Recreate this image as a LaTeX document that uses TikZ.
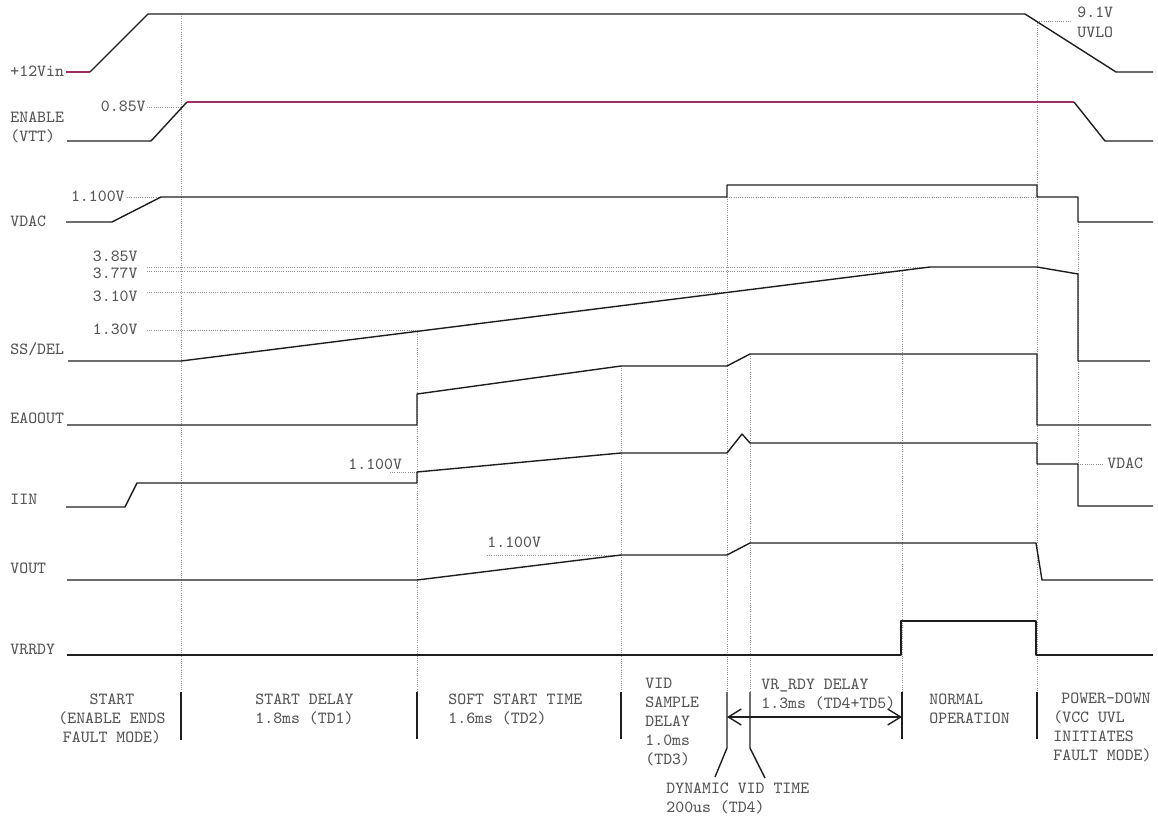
\documentclass[tikz,border=0pt]{standalone}
\usepackage{tikz}
\usetikzlibrary{arrows.meta}
\definecolor{wavemag}{RGB}{160,48,100}
\definecolor{labelgray}{RGB}{85,85,85}
\definecolor{waveblack}{RGB}{30,30,30}

\begin{document}
\begin{tikzpicture}[x=0.5pt, y=-0.5pt,
  every node/.style={font=\ttfamily\fontsize{8.5}{9.5}\selectfont, text=labelgray,
                     inner sep=0pt},
  wave/.style={draw=waveblack, line width=0.7pt, line join=round},
  hiwave/.style={wave, draw=wavemag},
  guide/.style={draw=gray!85, line width=0.45pt, dash pattern=on 0.5pt off 0.6pt},
  tick/.style={draw=waveblack, line width=0.7pt},
  sig/.style={anchor=base west, align=left},
  lvl/.style={anchor=base east},
  phase/.style={anchor=base west, align=left},
  span/.style={tick, {Straight Barb[length=6.5pt, width=8pt]}-{Straight Barb[length=6.5pt, width=8pt]}}
]
\useasboundingbox (0,0) rectangle (1158,819);

%--- Signal names ---
\node[sig] (vin)   at (10,76)  {+12Vin};
\node[sig] (en)    at (10,141) {ENABLE\\(VTT)};
\node[sig] (vdac)  at (10,226) {VDAC};
\node[sig] (ss)    at (10,354) {SS/DEL};
\node[sig] (ea)    at (10,423) {EAOOUT};
\node[sig] (iin)   at (10,504) {IIN};
\node[sig] (vout)  at (10,573) {VOUT};
\node[sig] (rdy)   at (10,654) {VRRDY};

%--- Level labels ---
\node[lvl] (v085)  at (146,111) {0.85V};
\node[lvl] (v110a) at (125,201) {1.100V};
\node[lvl] (v385)  at (138,261) {3.85V};
\node[lvl] (v377)  at (138,278) {3.77V};
\node[lvl] (v310)  at (138,301) {3.10V};
\node[lvl] (v130)  at (138,334) {1.30V};
\node[sig] (v110b) at (348,469) {1.100V};
\node[sig] (v110c) at (487,547) {1.100V};
\node[sig] (uvlo)  at (1077,37) {9.1V\\UVLO};
\node[sig] (vdacr) at (1107,468) {VDAC};

%--- Guide lines ---
\draw[guide] (181,14) -- (181,692);
\draw[guide] (417,330) -- (417,692);
\draw[guide] (621,366) -- (621,692);
\draw[guide] (727,197) -- (727,692);
\draw[guide] (750,354) -- (750,692);
\draw[guide] (902,271) -- (902,692);
\draw[guide] (1037,21) -- (1037,692);
\draw[guide] (1078,222) -- (1078,464);

\draw[guide] (147,107) -- (181,107);
\draw[guide] (127,197) -- (161,197);
\draw[guide] (727,197) -- (1037,197);
\draw[guide] (147,267) -- (930,267);
\draw[guide] (147,271) -- (902,271);
\draw[guide] (147,292) -- (727,292);
\draw[guide] (147,330) -- (417,330);
\draw[guide] (390,472) -- (417,472);
\draw[guide] (487,555) -- (621,555);
\draw[guide] (1037,21) -- (1072,21);
\draw[guide] (1078,464) -- (1104,464);

%--- Waveforms ---
% +12Vin
\draw[hiwave] (66,72) -- (90,72);
\draw[wave] (90,72) -- (148,14) -- (1025,14) -- (1116,72) -- (1153,72);
% ENABLE
\draw[wave] (67,141) -- (151,141) -- (187,102);
\draw[hiwave] (187,102) -- (1074,102);
\draw[wave] (1074,102) -- (1105,141) -- (1153,141);
% VDAC
\draw[wave] (66,222) -- (112,222) -- (161,197) -- (727,197) -- (727,185)
  -- (1037,185) -- (1037,197) -- (1078,197) -- (1078,222) -- (1153,222);
% SS/DEL
\draw[wave] (68,361) -- (181,361) -- (930,267) -- (1037,267) -- (1078,274)
  -- (1078,361) -- (1150,361);
% EAOOUT
\draw[wave] (67,425) -- (417,425) -- (417,394) -- (621,366) -- (727,366)
  -- (750,354) -- (1037,354) -- (1037,425) -- (1151,425);
% IIN
\draw[wave] (66,507) -- (125,507) -- (137,483) -- (417,483) -- (417,472)
  -- (621,453) -- (727,453) -- (742,434) -- (750,443) -- (1037,443)
  -- (1037,464) -- (1078,464) -- (1078,506) -- (1153,506);
% VOUT
\draw[wave] (67,580) -- (417,580) -- (621,555) -- (727,555) -- (750,543)
  -- (1036,543) -- (1042,580) -- (1153,580);
% VRRDY
\draw[wave] (67,655) -- (901,655) -- (901,621) -- (1036,621) -- (1036,655)
  -- (1153,655);

%--- Phase marks ---
\draw[tick] (181,692) -- (181,740);
\draw[tick] (417,692) -- (417,739);
\draw[tick] (621,692) -- (621,739);
\draw[tick] (902,692) -- (902,739);
\draw[tick] (1037,692) -- (1037,739);
\draw[tick] (727,692) -- (727,748) -- (715,777);
\draw[tick] (750,692) -- (750,748) -- (765,778);

\coordinate (rdyL) at (727,717);
\coordinate (rdyR) at (902,717);
\draw[span] (rdyL) -- (rdyR);

%--- Phase texts ---
\node[anchor=base, align=center] (pstart) at (112,742) {START\\(ENABLE ENDS\\ FAULT MODE)};
\node[phase] (pdelay)  at (255,723)  {START DELAY\\1.8ms (TD1)};
\node[phase] (psoft)   at (448,723)  {SOFT START TIME\\1.6ms (TD2)};
\node[phase] (pvid)    at (645,764)  {VID\\SAMPLE\\DELAY\\1.0ms\\(TD3)};
\node[phase] (prdy)    at (761,708)  {VR\_RDY DELAY\\1.3ms (TD4+TD5)};
\node[phase] (pnorm)   at (929,723)  {NORMAL\\OPERATION};
\node[phase] (pdown)   at (1053,760) {\hspace*{4pt}POWER-DOWN\\(VCC UVL\\INITIATES\\FAULT MODE)};
\node[phase] (pdyn)    at (666,812)  {DYNAMIC VID TIME\\200us (TD4)};

\end{tikzpicture}
\end{document}
